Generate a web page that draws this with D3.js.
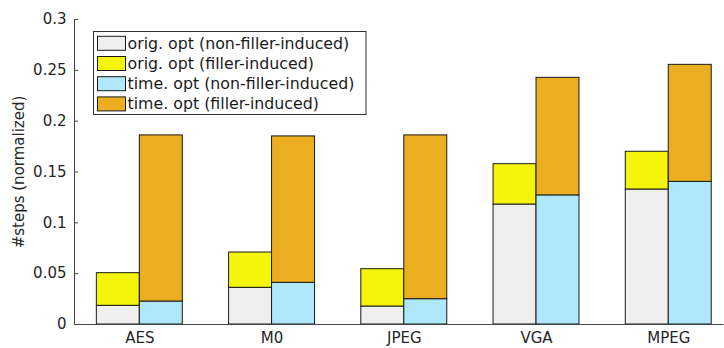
<!DOCTYPE html>
<html>
<head>
<meta charset="utf-8">
<script src="https://cdn.jsdelivr.net/npm/d3@7"></script>
<style>
  html, body { margin: 0; padding: 0; background: #fff; }
  svg { display: block; font-family: "DejaVu Sans", sans-serif; }
</style>
</head>
<body>
<svg id="chart" width="724" height="348"></svg>
<script>
// Benchmarks and stacked step counts (normalized)
const categories = ["AES", "M0", "JPEG", "VGA", "MPEG"];
const origNonFiller = [0.0184, 0.0361, 0.0177, 0.1180, 0.1328];
const origFiller    = [0.0321, 0.0347, 0.0367, 0.0397, 0.0371];
const timeNonFiller = [0.0226, 0.0410, 0.0249, 0.1270, 0.1403];
const timeFiller    = [0.1634, 0.1440, 0.1611, 0.1156, 0.1151];
const yTicks = [0, 0.05, 0.1, 0.15, 0.2, 0.25, 0.3];
const yTickLabels = ["0", "0.05", "0.1", "0.15", "0.2", "0.25", "0.3"];
const legendLabels = [
  "orig. opt (non-filler-induced)",
  "orig. opt (filler-induced)",
  "time. opt (non-filler-induced)",
  "time. opt (filler-induced)"
];
const colors = ["#efefef", "#f5f50c", "#afe8fa", "#ebae21"];

const svg = d3.select("#chart");
const plotLeft = 74, plotRight = 723, plotTop = 19, plotBottom = 324;

const x = d3.scaleLinear().domain([-0.494, 4.414]).range([plotLeft, plotRight]);
const y = d3.scaleLinear().domain([0, 0.3]).range([plotBottom, plotTop]);
const barW = x(0.325) - x(0);

// Build stacked segments per group: left bar = orig, right bar = time
const segments = [];
categories.forEach((c, i) => {
  const groups = [
    { side: -1, parts: [[origNonFiller[i], 0], [origFiller[i], 1]] },
    { side: 0,  parts: [[timeNonFiller[i], 2], [timeFiller[i], 3]] }
  ];
  groups.forEach(g => {
    let base = 0;
    g.parts.forEach(([v, k]) => {
      segments.push({ i, side: g.side, y0: base, y1: base + v, k });
      base += v;
    });
  });
});

svg.append("g").selectAll("rect").data(segments).join("rect")
  .attr("x", d => x(d.i) + d.side * barW)
  .attr("width", barW)
  .attr("y", d => y(d.y1))
  .attr("height", d => y(d.y0) - y(d.y1))
  .attr("fill", d => colors[d.k])
  .attr("stroke", "#1a1a1a")
  .attr("stroke-width", 1);

// Y axis with inward ticks
const yAxis = svg.append("g")
  .attr("transform", `translate(${plotLeft},0)`)
  .call(d3.axisLeft(y).tickValues(yTicks)
    .tickFormat((d, i) => yTickLabels[i])
    .tickSizeInner(-4).tickSizeOuter(0).tickPadding(7.5));
yAxis.select(".domain").attr("stroke", "#444");
yAxis.selectAll(".tick line").attr("stroke", "#444");
yAxis.selectAll(".tick text").attr("fill", "#262626").attr("font-size", 15)
  .attr("font-family", "DejaVu Sans, sans-serif");

// X axis (baseline only) with category labels
const xAxis = svg.append("g")
  .attr("transform", `translate(0,${plotBottom})`)
  .call(d3.axisBottom(x).tickValues(d3.range(categories.length))
    .tickFormat(i => categories[i]).tickSize(0).tickPadding(8));
xAxis.select(".domain").attr("stroke", "#444");
xAxis.selectAll(".tick text").attr("fill", "#262626").attr("font-size", 15)
  .attr("font-family", "DejaVu Sans, sans-serif");

// Y axis title
svg.append("text")
  .attr("transform", `translate(24,172) rotate(-90)`)
  .attr("text-anchor", "middle")
  .attr("fill", "#262626")
  .attr("font-size", 15)
  .text("#steps (normalized)");

// Legend
const lg = svg.append("g");
lg.append("rect")
  .attr("x", 93.5).attr("y", 31.5).attr("width", 272.5).attr("height", 83)
  .attr("fill", "#fff").attr("stroke", "#333").attr("stroke-width", 1);
legendLabels.forEach((t, k) => {
  const cy = 43.3 + k * 20.2;
  lg.append("rect")
    .attr("x", 97.5).attr("y", cy - 7).attr("width", 28).attr("height", 14)
    .attr("fill", colors[k]).attr("stroke", "#1a1a1a");
  lg.append("text")
    .attr("x", 127.5).attr("y", cy + 5.5)
    .attr("fill", "#1a1a1a").attr("font-size", 15.8)
    .text(t);
});
</script>
</body>
</html>
